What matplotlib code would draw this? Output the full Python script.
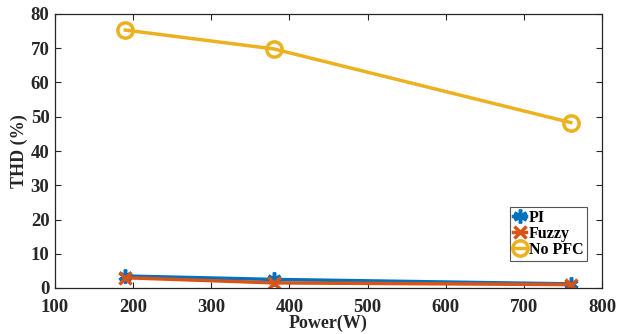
import matplotlib
matplotlib.use("Agg")
import matplotlib.pyplot as plt

power = [190, 380, 760]
thd_pi = [3.5, 2.5, 1.2]
thd_fuzzy = [3.0, 1.5, 1.0]
thd_nopfc = [75.3, 69.8, 48.3]
xticks = [100, 200, 300, 400, 500, 600, 700, 800]
yticks = [0, 10, 20, 30, 40, 50, 60, 70, 80]

plt.rcParams['font.family'] = ['Liberation Serif', 'DejaVu Serif']
plt.rcParams['font.weight'] = 'bold'

fig = plt.figure(figsize=(6.26, 3.34), dpi=100)
ax = fig.add_axes([55/626, 1-288/334, (602-55)/626, (288-14)/334])

blue = '#0072BD'
orange = '#D95319'
yellow = '#EDB120'

ax.plot(power, thd_pi, color=blue, lw=2.5, marker=(6, 2, 0), ms=10, mew=2.5, label='PI')
ax.plot(power, thd_fuzzy, color=orange, lw=2.5, marker='x', ms=9, mew=2.5, label='Fuzzy')
ax.plot(power, thd_nopfc, color=yellow, lw=2.5, marker='o', ms=11, mew=2.5,
        mfc='none', label='No PFC')

ax.set_xlim(100, 800)
ax.set_ylim(0, 80)
ax.set_xticks(xticks)
ax.set_yticks(yticks)
ax.tick_params(direction='in', top=True, right=True, labelsize=13.5, length=4,
               width=0.8, color='#262626', labelcolor='#262626')
ax.tick_params(axis='x', pad=8)
ax.tick_params(axis='y', pad=4)
for lab in ax.get_xticklabels() + ax.get_yticklabels():
    lab.set_fontweight('bold')
for s in ax.spines.values():
    s.set_color('#262626')
    s.set_linewidth(0.9)

ax.set_xlabel('Power(W)', fontsize=13, fontweight='bold', color='#262626', labelpad=-1)
ax.set_ylabel('THD (%)', fontsize=13, fontweight='bold', color='#262626', labelpad=2)

leg = ax.legend(loc='lower right', bbox_to_anchor=(0.9726, 0.0985),
                prop={'weight': 'bold', 'size': 11.5}, handlelength=0.8,
                handletextpad=0.2, borderpad=0.2, labelspacing=0.0,
                fancybox=False, framealpha=1, edgecolor='#555555', borderaxespad=0)
leg.get_frame().set_linewidth(0.8)

fig.savefig('out.png', dpi=100)
